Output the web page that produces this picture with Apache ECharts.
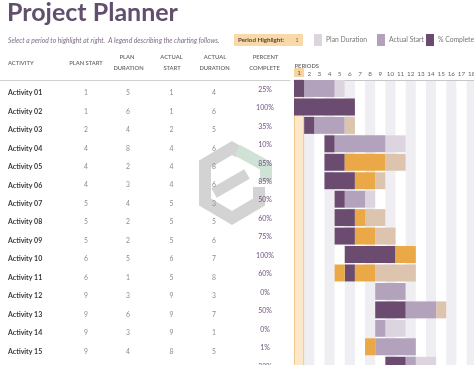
<!DOCTYPE html>
<html><head><meta charset="utf-8">
<script src="https://cdn.jsdelivr.net/npm/echarts@6/dist/echarts.min.js"></script>
<style>html,body{margin:0;padding:0;background:#fff}#c{width:474px;height:365px}</style>
</head><body><div id="c"></div>
<script>
// ---------------- data ----------------
const activities = ['Activity 01','Activity 02','Activity 03','Activity 04','Activity 05','Activity 06','Activity 07','Activity 08','Activity 09','Activity 10','Activity 11','Activity 12','Activity 13','Activity 14','Activity 15','Activity 16'];
const planStart       = [1,1,2,4,4,4,5,5,5,6,6,9,9,9,9,10];
const planDuration    = [5,6,4,8,2,3,4,2,2,5,1,3,6,3,4,5];
const actualStart     = [1,1,2,4,4,4,5,5,5,6,5,9,9,9,8,10];
const actualDuration  = [4,6,5,6,8,6,3,5,6,7,8,3,7,1,5,3];
const percentComplete = [25,100,35,10,85,85,50,60,75,100,60,0,50,0,1,33];
const completedPeriods = [1,6,1,1,6,5,1,3,4,7,4,0,3,0,1,2];
const periods = ['1','2','3','4','5','6','7','8','9','10','11','12','13','14','15','16','17','18'];
const highlightPeriod = 1;

// ---------------- styles ----------------
const TYPES = [
  {key:'plan', name:'Plan Duration', color:'#dcd4df'},
  {key:'actual', name:'Actual Start', color:'#b3a2bb'},
  {key:'complete', name:'% Complete', color:'#6c4b70'},
  {key:'actualBeyond', name:'Actual (beyond plan)', color:'#dcc4af'},
  {key:'completeBeyond', name:'% Complete (beyond plan)', color:'#eaa847'}
];
const FONT = 'Lato, "Open Sans", sans-serif';

function classify(r, p) {
  const inPlan = p >= planStart[r] && p < planStart[r] + planDuration[r];
  const inActual = p >= actualStart[r] && p < actualStart[r] + actualDuration[r];
  const done = p >= actualStart[r] && p < actualStart[r] + completedPeriods[r];
  if (done) return inPlan ? 'complete' : 'completeBeyond';
  if (inActual) return inPlan ? 'actual' : 'actualBeyond';
  if (inPlan) return 'plan';
  return null;
}
const segs = {}; TYPES.forEach(t => segs[t.key] = []);
activities.forEach((a, r) => {
  let cur = null, s = 0;
  for (let p = 1; p <= periods.length + 1; p++) {
    const t = p <= periods.length ? classify(r, p) : null;
    if (t !== cur) {
      if (cur) segs[cur].push([s - 1, p - 2, r]);
      cur = t; s = p;
    }
  }
});

function barRender(params, api) {
  const a = api.coord([api.value(0), api.value(2)]);
  const b = api.coord([api.value(1), api.value(2)]);
  const cw = api.size([1, 0])[0];
  const rh = api.size([0, 1])[1];
  return {type:'rect', shape:{x:a[0]-cw/2, y:a[1]-rh/2, width:b[0]-a[0]+cw, height:rh-1.5},
          style:{fill:api.visual('color')}};
}

const ROW_H = 18.45;
const GRID_TOP = 80;
const GRID_H = ROW_H * activities.length;
const COL_W = 10.15;
const tableCols = [86, 128, 171.5, 214];
const pctCol = 265;

const tableData = activities.map((a, r) => [r, planStart[r], planDuration[r], actualStart[r], actualDuration[r], percentComplete[r]]);

function tableRender(params, api) {
  const r = api.value(0);
  const c = api.coord([0, r]);
  const yText = c[1] + 3.8;
  const kids = [];
  kids.push({type:'text', x: api.coord([8, r])[0], y: yText, style:{text: activities[r], font:'bold 7px ' + FONT, fill:'#3a3a3a', align:'left', verticalAlign:'middle'}});
  [1,2,3,4].forEach((k, i) => {
    kids.push({type:'text', x: api.coord([tableCols[i], r])[0], y: yText, style:{text: String(api.value(k)), font:'6.8px ' + FONT, fill:'#8c8c8c', align:'center', verticalAlign:'middle'}});
  });
  kids.push({type:'text', x: api.coord([pctCol, r])[0], y: c[1] + 0.3, style:{text: api.value(5) + '%', font:'7px ' + FONT, fill:'#6e5580', align:'center', verticalAlign:'middle'}});
  return {type:'group', children: kids};
}

function highlightRender(params, api) {
  const c = api.coord([api.value(0), 0]);
  const cw = api.size([1, 0])[0];
  const cs = params.coordSys;
  return {type:'rect', shape:{x:c[0]-cw/2+0.5, y:cs.y, width:cw-1, height:cs.height},
          style:{fill:'#fde7c9', stroke:'#f1c88f', lineWidth:1}};
}

const series = [
  {type:'custom', name:'highlight', xAxisIndex:1, yAxisIndex:1, renderItem: highlightRender,
   data:[[highlightPeriod - 1]], encode:{x:0}, z:1, silent:true},
  {type:'custom', name:'table', xAxisIndex:0, yAxisIndex:0, renderItem: tableRender,
   data: tableData, encode:{x:1, y:0}, z:3, silent:true}
];
TYPES.forEach(t => series.push({
  type:'custom', name:t.name, xAxisIndex:1, yAxisIndex:1, renderItem: barRender,
  itemStyle:{color:t.color}, data: segs[t.key], encode:{x:[0,1], y:2}, z:2, silent:true
}));

const legendBase = {top:34, itemWidth:8, itemHeight:12, icon:'rect', selectedMode:false, padding:0,
  textStyle:{fontSize:6.8, color:'#777', fontFamily:FONT, padding:[0,0,0,-1]}};

const hdr = (text, x, y, align) => ({type:'text', x, y, style:{text, font:'600 5.8px ' + FONT, fill:'#666', align: align || 'center', verticalAlign:'middle'}});

const option = {
  animation:false,
  title:[
    {text:'Project Planner', left:7, top:0, padding:0,
     textStyle:{fontFamily:FONT, fontSize:25, fontWeight:'bold', color:'#614f6d'}},
    {text:'Select a period to highlight at right.  A legend describing the charting follows.', left:8, top:37, padding:0,
     textStyle:{fontFamily:FONT, fontSize:6.7, fontStyle:'italic', fontWeight:'normal', color:'#7c6c86'}}
  ],
  legend:[
    Object.assign({}, legendBase, {left:314, data:['Plan Duration']}),
    Object.assign({}, legendBase, {left:377, data:['Actual Start']}),
    Object.assign({}, legendBase, {left:426, data:['% Complete']})
  ],
  grid:[
    {left:0, top:GRID_TOP, width:290, height:GRID_H, outerBoundsMode:'none', containLabel:false},
    {left:294, top:GRID_TOP, width:COL_W * periods.length, height:GRID_H, outerBoundsMode:'none', containLabel:false}
  ],
  xAxis:[
    {type:'value', gridIndex:0, min:0, max:290, position:'top',
     axisLine:{show:true, lineStyle:{color:'#cfcfcf'}}, axisTick:{show:false}, axisLabel:{show:false}, splitLine:{show:false}},
    {type:'category', gridIndex:1, data:periods, position:'top', boundaryGap:true,
     axisLine:{show:true, lineStyle:{color:'#c8c8c8'}}, axisTick:{show:false},
     axisLabel:{fontSize:6.3, color:'#666', fontFamily:FONT, margin:3, interval:0,
       formatter: v => Number(v) === highlightPeriod ? '{h|' + v + '}' : v,
       rich:{h:{backgroundColor:'#f7d49e', width:8, align:'center', padding:[2,1,1,1], fontSize:6.3, color:'#555'}}},
     splitLine:{show:false},
     splitArea:{show:true, areaStyle:{color:['rgba(255,255,255,0)', '#efeff3']}}}
  ],
  yAxis:[
    {type:'category', gridIndex:0, data:activities, inverse:true, show:false},
    {type:'category', gridIndex:1, data:activities, inverse:true,
     axisLine:{show:false}, axisTick:{show:false}, axisLabel:{show:false},
     splitLine:{show:true, lineStyle:{color:'#ffffff', width:1}}}
  ],
  graphic:{elements:[
    // watermark
    {type:'polyline', z:0, shape:{points:[[239,152],[232,148],[205,164],[205,202],[232,218],[259,202],[259,187]]},
     style:{stroke:'#d3d3d3', lineWidth:12, fill:null, lineJoin:'miter'}},
    {type:'polyline', z:0, shape:{points:[[237,150],[266,166],[266,182]]},
     style:{stroke:'#cfe2d5', lineWidth:12, fill:null, lineJoin:'miter'}},
    {type:'polyline', z:0, shape:{points:[[214,193],[247,174]]},
     style:{stroke:'#d3d3d3', lineWidth:11, fill:null}},
    // period highlight box
    {type:'rect', shape:{x:234, y:34, width:69, height:12}, style:{fill:'#f9d9a9'}},
    {type:'text', x:238, y:40, style:{text:'Period Highlight:', font:'bold 6.2px ' + FONT, fill:'#5a4630', verticalAlign:'middle'}},
    {type:'text', x:297, y:40, style:{text:String(highlightPeriod), font:'6px ' + FONT, fill:'#9a6a2a', align:'center', verticalAlign:'middle'}},
    // table header
    hdr('ACTIVITY', 8, 63, 'left'),
    hdr('PLAN START', 86, 63),
    hdr('PLAN', 127, 57.5), hdr('DURATION', 128.5, 68.5),
    hdr('ACTUAL', 171.5, 57.5), hdr('START', 172, 68.5),
    hdr('ACTUAL', 215, 57.5), hdr('DURATION', 214.5, 68.5),
    hdr('PERCENT', 265.5, 57.5), hdr('COMPLETE', 264.5, 68.5),
    hdr('PERIODS', 294.5, 66.5, 'left')
  ]},
  series
};
const chart = echarts.init(document.getElementById('c'));
chart.setOption(option);
</script></body></html>
